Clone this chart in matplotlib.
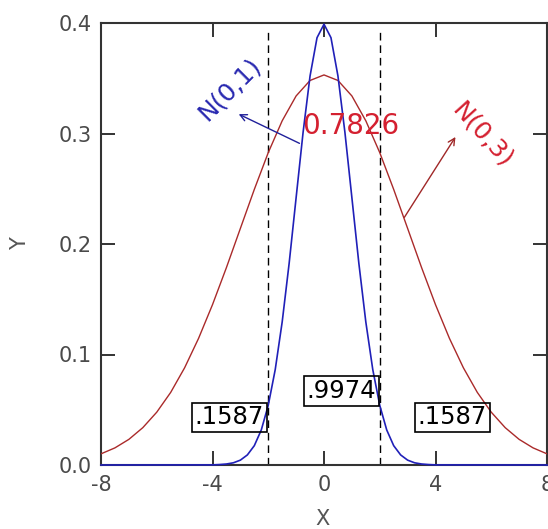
import matplotlib
matplotlib.use('Agg')
import matplotlib.pyplot as plt

# Red curve ("N(0,3)")
x_red = [-8, -7.5, -7, -6.5, -6, -5.5, -5, -4.5, -4, -3.5, -3, -2.5, -2, -1.5, -1, -0.5,
         0, 0.5, 1, 1.5, 2, 2.5, 3, 3.5, 4, 4.5, 5, 5.5, 6, 6.5, 7, 7.5, 8]
y_red = [0.0101, 0.0155, 0.0232, 0.0338, 0.0478, 0.0657, 0.0880, 0.1146, 0.1451, 0.1787,
         0.2141, 0.2494, 0.2827, 0.3115, 0.3340, 0.3480,
         0.3530, 0.3480, 0.3340, 0.3115, 0.2827, 0.2494, 0.2141, 0.1787, 0.1451, 0.1146,
         0.0880, 0.0657, 0.0478, 0.0338, 0.0232, 0.0155, 0.0101]

# Blue curve ("N(0,1)")
x_blue = [-8, -4, -3.75, -3.5, -3.25, -3, -2.75, -2.5, -2.25, -2, -1.75, -1.5, -1.25, -1,
          -0.75, -0.5, -0.25, 0, 0.25, 0.5, 0.75, 1, 1.25, 1.5, 1.75, 2, 2.25, 2.5, 2.75,
          3, 3.25, 3.5, 3.75, 4, 8]
y_blue = [0.0, 0.0001, 0.0004, 0.0009, 0.0020, 0.0044, 0.0091, 0.0175, 0.0317, 0.0540,
          0.0863, 0.1295, 0.1826, 0.2420, 0.3011, 0.3521, 0.3867, 0.3989, 0.3867, 0.3521,
          0.3011, 0.2420, 0.1826, 0.1295, 0.0863, 0.0540, 0.0317, 0.0175, 0.0091, 0.0044,
          0.0020, 0.0009, 0.0004, 0.0001, 0.0]

cut_x = [-2, 2]
x_ticks = [-8, -4, 0, 4, 8]
x_ticklabels = ['-8', '-4', '0', '4', '8']
y_ticks = [0.0, 0.1, 0.2, 0.3, 0.4]
y_ticklabels = ['0.0', '0.1', '0.2', '0.3', '0.4']

box_labels = ['.1587', '.9974', '.1587']
box_x = [-3.4, 0.62, 4.6]
box_y = [0.043, 0.067, 0.043]

fig = plt.figure(figsize=(5.48, 5.29), dpi=100)
ax = fig.add_axes([101 / 548, 1 - 465 / 529, 446 / 548, 442 / 529])

red = '#aa2a2a'
blue = '#2020b8'

ax.plot(x_red, y_red, color=red, lw=1.0, zorder=3)
ax.plot(x_blue, y_blue, color=blue, lw=1.2, zorder=4, clip_on=False)
ax.vlines(cut_x, 0, 0.392, colors='black', linestyles=(0, (5.5, 3.5)), lw=1.0, zorder=2)

ax.set_xlim(-8, 8)
ax.set_ylim(0, 0.4)
ax.set_xticks(x_ticks)
ax.set_xticklabels(x_ticklabels)
ax.set_yticks(y_ticks)
ax.set_yticklabels(y_ticklabels)
ax.tick_params(direction='in', length=10, width=1.4, top=True, right=True,
               labelsize=15, labelcolor='#4a4a4a', color='#333333', pad=7)
for s in ax.spines.values():
    s.set_color('#333333')
    s.set_linewidth(1.5)

ax.set_xlabel('X', fontsize=15, color='#555555')
ax.xaxis.set_label_coords(0.496, -0.10)
ax.set_ylabel('Y', fontsize=15, color='#555555')
ax.yaxis.set_label_coords(-0.16, 0.5)

for lab, bx, by in zip(box_labels, box_x, box_y):
    ax.text(bx, by, lab, fontsize=17.5, color='black', ha='center', va='center', zorder=6,
            bbox=dict(boxstyle='square,pad=0.12', facecolor='none', edgecolor='black', lw=1.2))

ax.text(0.97, 0.307, '0.7826', fontsize=20, color='#d42030', ha='center', va='center', zorder=6)

ax.annotate('', xy=(-3.15, 0.3186), xytext=(-0.79, 0.29),
            arrowprops=dict(arrowstyle='->', color='#20209a', lw=1.0, mutation_scale=12), zorder=5)
ax.text(-3.4, 0.34, 'N(0,1)', fontsize=18, color='#2828b0', rotation=45,
        ha='center', va='center', zorder=6)

ax.annotate('', xy=(4.77, 0.299), xytext=(2.83, 0.222),
            arrowprops=dict(arrowstyle='->', color='#a02828', lw=1.0, mutation_scale=12), zorder=5)
ax.text(5.7, 0.299, 'N(0,3)', fontsize=18, color='#d42030', rotation=-48,
        ha='center', va='center', zorder=6)

fig.savefig('out.png', dpi=100)
